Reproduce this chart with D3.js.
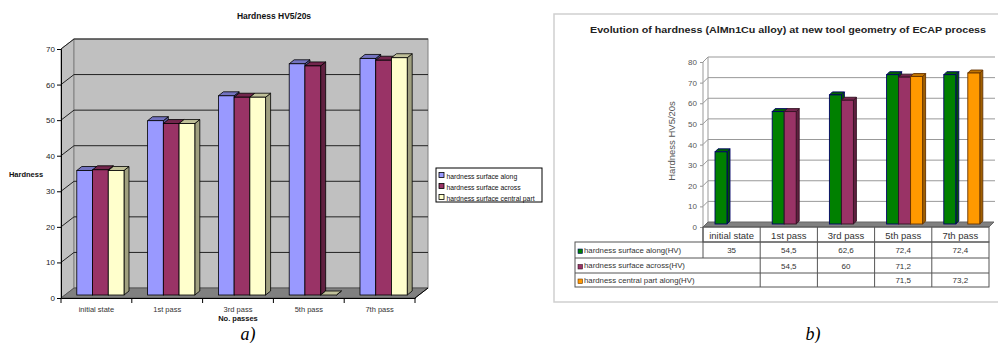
<!DOCTYPE html>
<html>
<head>
<meta charset="utf-8">
<script src="https://cdn.jsdelivr.net/npm/d3@7/dist/d3.min.js"></script>
<style>
  body { margin: 0; background: #fff; }
  svg { display: block; font-family: "Liberation Sans", Arial, sans-serif; }
</style>
</head>
<body>
<svg width="998" height="343"></svg>
<script>
// ---- data ----
var categories = ["initial state", "1st pass", "3rd pass", "5th pass", "7th pass"];

// chart a)
var seriesA = ["hardness surface along", "hardness surface across", "hardness surface central part"];
var alongA = [35, 49, 56, 65, 66.5];
var acrossA = [35.2, 48.2, 55.6, 64.4, 66];
var centralA = [35, 48.2, 55.6, 0, 66.7];
var ticksA = [0, 10, 20, 30, 40, 50, 60, 70];
var colorsA = ["#9999ff", "#993366", "#ffffcc"];

// chart b)
var seriesB = ["hardness surface along(HV)", "hardness surface across(HV)", "hardness central part along(HV)"];
var alongB = [35, 54.5, 62.6, 72.4, 72.4];
var acrossB = [null, 54.5, 60, 71.2, null];
var centralB = [null, null, null, 71.5, 73.2];
var ticksB = [0, 10, 20, 30, 40, 50, 60, 70, 80];
var colorsB = ["#008000", "#993366", "#ff9900"];
var edgesB = ["#000066", "#331122", "#663300"];

var svg = d3.select("svg");

function bar3d(g, x, y0, yTop, w, ddx, ddy, color, edge, sw) {
  var c = d3.color(color);
  g.append("polygon")
    .attr("points", [[x + w, yTop], [x + w + ddx, yTop + ddy], [x + w + ddx, y0 + ddy], [x + w, y0]].join(" "))
    .attr("fill", c.darker(1.3)).attr("stroke", edge).attr("stroke-width", sw);
  g.append("polygon")
    .attr("points", [[x, yTop], [x + ddx, yTop + ddy], [x + w + ddx, yTop + ddy], [x + w, yTop]].join(" "))
    .attr("fill", c.darker(0.8)).attr("stroke", edge).attr("stroke-width", sw);
  if (y0 - yTop > 0.5) {
    g.append("rect")
      .attr("x", x).attr("y", yTop).attr("width", w).attr("height", y0 - yTop)
      .attr("fill", color).attr("stroke", edge).attr("stroke-width", sw);
  }
}

// =============== chart a) ===============
var ga = svg.append("g");
var dxA = 13, dyA = -10;
var xA = d3.scaleBand().domain(categories).range([61, 415]);
var yA = d3.scaleLinear().domain([0, 70]).range([298, 49]);
var x1A = d3.scaleBand().domain(seriesA).range([0, 47.2]);

ga.append("text").attr("x", 274).attr("y", 19).attr("text-anchor", "middle")
  .attr("font-size", 8.5).attr("font-weight", "bold").attr("fill", "#111").text("Hardness HV5/20s");

// walls
ga.append("polygon")
  .attr("points", [[61, yA(0)], [61, yA(70)], [61 + dxA, yA(70) + dyA], [61 + dxA, yA(0) + dyA]].join(" "))
  .attr("fill", "#c0c0c0").attr("stroke", "#808080");
ga.append("rect")
  .attr("x", 61 + dxA).attr("y", yA(70) + dyA).attr("width", 415 - 61).attr("height", yA(0) - yA(70))
  .attr("fill", "#c0c0c0").attr("stroke", "#808080");
ga.append("polygon")
  .attr("points", [[61, yA(0)], [415, yA(0)], [415 + dxA, yA(0) + dyA], [61 + dxA, yA(0) + dyA]].join(" "))
  .attr("fill", "#808080").attr("stroke", "#555");

ticksA.slice(1).forEach(function (t) {
  ga.append("line").attr("x1", 61).attr("y1", yA(t)).attr("x2", 61 + dxA).attr("y2", yA(t) + dyA)
    .attr("stroke", "#222");
  ga.append("line").attr("x1", 61 + dxA).attr("y1", yA(t) + dyA).attr("x2", 415 + dxA).attr("y2", yA(t) + dyA)
    .attr("stroke", "#222");
});

// bars
var dataA = [alongA, acrossA, centralA];
var barsA = ga.append("g");
categories.forEach(function (c, i) {
  var gx = xA(c) + (xA.bandwidth() - 47.2) / 2 + 4;
  seriesA.forEach(function (s, j) {
    bar3d(barsA, gx + x1A(s), yA(0) - 3, yA(dataA[j][i]) - 3, x1A.bandwidth(), 5, -4,
      colorsA[j], "#000", 0.8);
  });
});

// axes
ga.append("g").attr("transform", "translate(61,0)")
  .call(d3.axisLeft(yA).tickValues(ticksA).tickSize(4).tickPadding(2))
  .call(function (a) {
    a.selectAll("text").attr("font-size", 8).attr("fill", "#222").attr("font-family", "Liberation Sans");
    a.select(".domain").attr("stroke", "#000");
  });
ga.append("g").attr("transform", "translate(0," + yA(0) + ")")
  .call(d3.axisBottom(xA).tickSize(0).tickPadding(9))
  .call(function (a) {
    a.selectAll("text").attr("font-size", 7.5).attr("fill", "#333").attr("font-family", "Liberation Sans");
    a.select(".domain").attr("stroke", "#000");
  });
ga.append("g").selectAll("line")
  .data(categories.map(function (c) { return xA(c); }).concat([415]))
  .enter().append("line")
  .attr("x1", function (d) { return d; }).attr("x2", function (d) { return d; })
  .attr("y1", yA(0)).attr("y2", yA(0) + 5).attr("stroke", "#000");
ga.append("line").attr("x1", 415).attr("y1", yA(0)).attr("x2", 415 + dxA).attr("y2", yA(0) + dyA).attr("stroke", "#000");

ga.append("text").attr("x", 26).attr("y", 177).attr("text-anchor", "middle")
  .attr("font-size", 7.5).attr("font-weight", "bold").attr("fill", "#111").text("Hardness");
ga.append("text").attr("x", 238).attr("y", 321).attr("text-anchor", "middle")
  .attr("font-size", 7.5).attr("font-weight", "bold").attr("fill", "#111").text("No. passes");

// legend a
var legA = ga.append("g").attr("transform", "translate(436,168)");
legA.append("rect").attr("width", 106).attr("height", 34).attr("fill", "#fff").attr("stroke", "#000");
legA.selectAll("g").data(seriesA).enter().append("g")
  .attr("transform", function (d, i) { return "translate(3," + (3 + i * 11) + ")"; })
  .each(function (d, i) {
    var r = d3.select(this);
    r.append("rect").attr("width", 5).attr("height", 5).attr("y", 1.5)
      .attr("fill", colorsA[i]).attr("stroke", "#000").attr("stroke-width", 0.8);
    r.append("text").attr("x", 7.5).attr("y", 7.5).attr("font-size", 6.8).attr("fill", "#111").text(d);
  });

svg.append("text").attr("x", 248).attr("y", 340).attr("text-anchor", "middle")
  .attr("font-family", "Liberation Serif").attr("font-style", "italic").attr("font-size", 18).text("a)");

// =============== chart b) ===============
var gb = svg.append("g");
gb.append("rect").attr("x", 554).attr("y", 14).attr("width", 460).attr("height", 288)
  .attr("fill", "#fff").attr("stroke", "#cfcfcf").attr("stroke-width", 1.5);

gb.append("text").attr("x", 788).attr("y", 33).attr("text-anchor", "middle")
  .attr("font-size", 9).attr("font-weight", "bold").attr("fill", "#222")
  .attr("textLength", 396).attr("lengthAdjust", "spacingAndGlyphs")
  .text("Evolution of hardness (AlMn1Cu alloy) at new tool geometry of ECAP process");

var dxB = 5, dyB = -5;
var xB = d3.scaleBand().domain(categories).range([703, 989]);
var yB = d3.scaleLinear().domain([0, 80]).range([227, 62]);
var x1B = d3.scaleBand().domain(seriesB).range([0, 36]);

ticksB.slice(1).forEach(function (t) {
  gb.append("line").attr("x1", 703).attr("y1", yB(t)).attr("x2", 703 + dxB).attr("y2", yB(t) + dyB)
    .attr("stroke", "#999");
  gb.append("line").attr("x1", 703 + dxB).attr("y1", yB(t) + dyB).attr("x2", 995).attr("y2", yB(t) + dyB)
    .attr("stroke", "#999");
});
gb.append("line").attr("x1", 703).attr("y1", yB(0)).attr("x2", 703).attr("y2", yB(80)).attr("stroke", "#999");
gb.append("line").attr("x1", 703 + dxB).attr("y1", yB(0) + dyB).attr("x2", 703 + dxB).attr("y2", yB(80) + dyB).attr("stroke", "#999");
gb.append("polygon")
  .attr("points", [[703, yB(0)], [989, yB(0)], [989 + dxB, yB(0) + dyB], [703 + dxB, yB(0) + dyB]].join(" "))
  .attr("fill", "#808080").attr("stroke", "#666");

gb.append("g").attr("transform", "translate(703,0)")
  .call(d3.axisLeft(yB).tickValues(ticksB).tickSize(3).tickPadding(3))
  .call(function (a) {
    a.selectAll("text").attr("font-size", 8).attr("fill", "#555").attr("font-family", "Liberation Sans");
    a.selectAll("line").attr("stroke", "#999");
    a.select(".domain").remove();
  });

gb.append("text").attr("transform", "translate(675,141) rotate(-90)").attr("text-anchor", "middle")
  .attr("font-size", 9.5).attr("fill", "#555").text("Hardness HV5/20s");

var dataB = [alongB, acrossB, centralB];
var barsB = gb.append("g");
categories.forEach(function (c, i) {
  var gx = xB(c) + 12;
  seriesB.forEach(function (s, j) {
    var v = dataB[j][i];
    if (v == null) return;
    bar3d(barsB, gx + x1B(s), yB(0) - 3, yB(v) - 3, x1B.bandwidth(), 3, -3,
      colorsB[j], edgesB[j], 0.9);
  });
});

// data table
var rowY = [227, 242, 258, 273, 287];
var tb = gb.append("g").attr("stroke", "#555").attr("fill", "none");
tb.append("rect").attr("x", 703).attr("y", rowY[0]).attr("width", 989 - 703).attr("height", rowY[1] - rowY[0]);
tb.append("rect").attr("x", 575).attr("y", rowY[1]).attr("width", 989 - 575).attr("height", rowY[4] - rowY[1]);
[2, 3].forEach(function (r) {
  tb.append("line").attr("x1", 575).attr("x2", 989).attr("y1", rowY[r]).attr("y2", rowY[r]);
});
categories.forEach(function (c, i) {
  if (i === 0) {
    tb.append("line").attr("x1", xB(c)).attr("x2", xB(c)).attr("y1", rowY[0]).attr("y2", rowY[2]);
  } else {
    tb.append("line").attr("x1", xB(c)).attr("x2", xB(c)).attr("y1", rowY[0]).attr("y2", rowY[4]);
  }
});

gb.append("g").selectAll("text").data(categories).enter().append("text")
  .attr("x", function (d) { return xB(d) + xB.bandwidth() / 2; }).attr("y", 238.5)
  .attr("text-anchor", "middle").attr("font-size", 9.5).attr("fill", "#333")
  .text(function (d) { return d; });

seriesB.forEach(function (s, j) {
  var cy = (rowY[j + 1] + rowY[j + 2]) / 2;
  gb.append("rect").attr("x", 578).attr("y", cy - 1).attr("width", 4.5).attr("height", 4.5)
    .attr("fill", colorsB[j]).attr("stroke", edgesB[j]).attr("stroke-width", 0.6);
  gb.append("text").attr("x", 584).attr("y", cy + 2.5).attr("font-size", 7.8).attr("fill", "#333").text(s);
  categories.forEach(function (c, i) {
    var v = dataB[j][i];
    if (v == null) return;
    gb.append("text").attr("x", xB(c) + xB.bandwidth() / 2).attr("y", cy + 3)
      .attr("text-anchor", "middle").attr("font-size", 8).attr("fill", "#333")
      .text(String(v).replace(".", ","));
  });
});

svg.append("text").attr("x", 813).attr("y", 340).attr("text-anchor", "middle")
  .attr("font-family", "Liberation Serif").attr("font-style", "italic").attr("font-size", 18).text("b)");
</script>
</body>
</html>
